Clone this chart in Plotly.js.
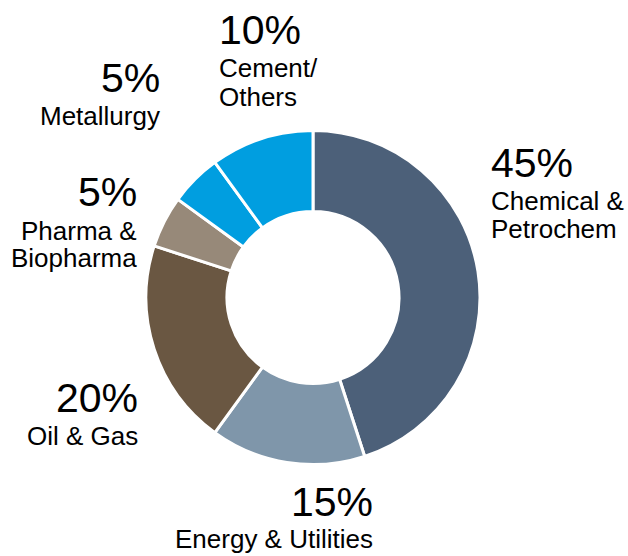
<!DOCTYPE html>
<html>
<head>
<meta charset="utf-8">
<script src="https://cdn.plot.ly/plotly-3.0.1.min.js"></script>
<style>html,body{margin:0;padding:0;background:#fff;}#chart{width:628px;height:556px;}</style>
</head>
<body>
<div id="chart"></div>
<script>
// Data
const categories = ["Chemical & Petrochem", "Energy & Utilities", "Oil & Gas", "Pharma & Biopharma", "Metallurgy", "Cement/ Others"];
const values = [45, 15, 20, 5, 5, 10];
const percentLabels = ["45%", "15%", "20%", "5%", "5%", "10%"];
const nameLines = [["Chemical &", "Petrochem"], ["Energy & Utilities"], ["Oil & Gas"], ["Pharma &", "Biopharma"], ["Metallurgy"], ["Cement/", "Others"]];
const colors = ["#4c6079", "#7f96aa", "#6a5742", "#978979", "#009ee0", "#009ee0"];

const W = 628, H = 556;
const px = x => x / W;
const py = y => 1 - y / H;

// label layout (pixel positions): anchor x, alignment, percent center y, name line center ys
const labelPos = [
  {x: 489, xa: "left",  pc: 163, lines: [201, 229]},
  {x: 375, xa: "right", pc: 502, lines: [538.5]},
  {x: 140, xa: "right", pc: 398, lines: [436]},
  {x: 139, xa: "right", pc: 192.5, lines: [231, 258]},
  {x: 162, xa: "right", pc: 78, lines: [116]},
  {x: 217, xa: "left",  pc: 30, lines: [67.5, 97]}
];

const font = "Liberation Sans, Arial, sans-serif";
const annotations = [];
labelPos.forEach((p, i) => {
  annotations.push({
    xref: "paper", yref: "paper", x: px(p.x), y: py(p.pc),
    xanchor: p.xa, yanchor: "middle", showarrow: false,
    text: percentLabels[i], font: {family: font, size: 41, color: "#000"}
  });
  nameLines[i].forEach((t, j) => {
    annotations.push({
      xref: "paper", yref: "paper", x: px(p.x), y: py(p.lines[j]),
      xanchor: p.xa, yanchor: "middle", showarrow: false,
      text: t, font: {family: font, size: 26, color: "#000"}
    });
  });
});

const trace = {
  type: "pie",
  labels: categories,
  values: values,
  sort: false,
  direction: "clockwise",
  rotation: 0,
  hole: 0.515,
  textinfo: "none",
  hoverinfo: "label+percent",
  marker: {colors: colors, line: {color: "#ffffff", width: 3}},
  domain: {x: [px(146), px(480)], y: [py(465), py(130)]},
  showlegend: false
};

const layout = {
  width: W, height: H,
  margin: {l: 0, r: 0, t: 0, b: 0},
  paper_bgcolor: "#ffffff",
  showlegend: false,
  annotations: annotations
};

Plotly.newPlot("chart", [trace], layout, {displayModeBar: false, staticPlot: true});
</script>
</body>
</html>
